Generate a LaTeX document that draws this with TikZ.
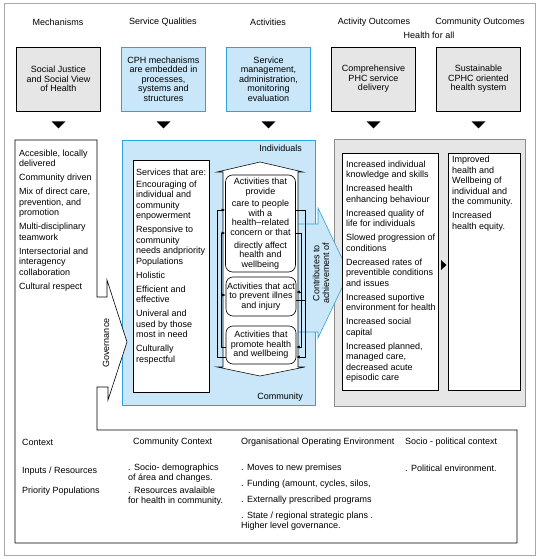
\documentclass[tikz,border=0pt]{standalone}
\usepackage{fontspec}
\setmainfont{Liberation Sans}
\usetikzlibrary{arrows.meta,calc}
\definecolor{bluefill}{HTML}{C9E7F8}
\definecolor{blueline}{HTML}{2AA3E0}
\definecolor{greyfill}{HTML}{E6E6E6}
\definecolor{framegrey}{HTML}{A8A8A8}
\definecolor{panelgrey}{HTML}{8C8C8C}
\begin{document}
\begin{tikzpicture}[x=1pt,y=-1pt,
  every node/.style={font=\fontsize{9}{9.6}\selectfont, inner sep=0pt},
  topbox/.style={draw, line width=0.6pt, minimum width=84pt, minimum height=64pt, align=center},
  greybox/.style={topbox, fill=greyfill, draw=black},
  bluebox/.style={topbox, fill=bluefill, draw=blueline},
  plainbox/.style={draw=black, fill=white, line width=0.6pt, anchor=north west},
  listtext/.style={align=left, anchor=north west, font=\fontsize{9}{10.5}\selectfont},
  actbox/.style={draw=black, fill=white, line width=0.6pt, rounded corners=7pt, align=center, minimum width=70pt},
  fb/.style={line width=0.55pt},
  fbarr/.style={fb, -{Latex[length=3.5pt,width=3pt]}},
  ctx/.style={anchor=west, align=left},
]
\useasboundingbox (0,0) rectangle (538,559);
% outer frame
\draw[framegrey, line width=0.8pt] (4,3) rectangle (535,555);

% headers
\node (hMech) at (58,22) {Mechanisms};
\node (hServ) at (163,22) {Service Qualities};
\node (hAct) at (268,22) {Activities};
\node (hAO) at (374,22) {Activity Outcomes};
\node (hCO) at (480,22) {Community Outcomes};
\node (hHealth) at (429,35) {Health for all};

% top boxes
\node[greybox] (t1) at (58.5,79) {Social Justice\\and Social View\\of Health};
\node[bluebox] (t2) at (163.5,79) {CPH mechanisms\\are embedded in\\processes,\\systems and\\structures};
\node[bluebox] (t3) at (268.5,79) {Service\\management,\\administration,\\monitoring\\evaluation};
\node[greybox] (t4) at (373.5,79) {Comprehensive\\PHC service\\delivery};
\node[greybox] (t5) at (478.5,79) {Sustainable\\CPHC oriented\\health system};
\foreach \t in {t1,t2,t3,t4,t5}{
  \fill ($(\t.south)+(-7,10)$) -- ($(\t.south)+(7,10)$) -- ($(\t.south)+(0,17)$) -- cycle;
}

% blue region and grey outcome panel
\node[draw=blueline, fill=bluefill, line width=0.6pt, anchor=north west, minimum width=193pt, minimum height=265pt] (blue) at (122,140) {};
\node[draw=panelgrey, fill=greyfill, line width=0.6pt, anchor=north west, minimum width=191pt, minimum height=267pt] (panel) at (334,139) {};

% contributes arrow
\fill[bluefill] (296,224) -- (318,224) -- (318,208) -- (349,273) -- (318,338) -- (318,332) -- (296,332) -- cycle;
\draw[blueline, line width=0.6pt] (296,224) -- (318,224) -- (318,208) -- (349,273) -- (318,338) -- (318,332) -- (296,332);
\node[rotate=90, align=center] (contrib) at (321,273) {Contributes to\\achievement of};

% activities double arrow
\draw[fill=white, line width=0.55pt] (223,172) -- (217,172) -- (260,162) -- (303,172) -- (298,172) -- (298,367) -- (305,367) -- (260,376) -- (217,367) -- (223,367) -- cycle;

% activity boxes
\node[actbox, minimum height=97pt] (b1) at (260.5,223.5) {Activities that\\provide\\[3pt]care to people\\with a\\health--related\\concern or that\\[3pt]directly affect\\health and\\wellbeing};
\node[actbox, minimum height=39pt] (b2) at (261,296.5) {Activities that act\\to prevent illnes\\and injury};
\node[actbox, minimum height=38pt] (b3) at (261,345) {Activities that\\promote health\\and wellbeing};

% feedback connectors
\coordinate (L1) at (217,0); \coordinate (L2) at (221,0);
\coordinate (R1) at (305,0); \coordinate (R2) at (301,0);
\coordinate (y210) at (0,210); \coordinate (y233) at (0,233);
\coordinate (y292) at (0,292); \coordinate (y295) at (0,295); \coordinate (y300) at (0,300);
\coordinate (y347) at (0,347); \coordinate (y357) at (0,357);
\draw[fbarr] (b3.west |- y357) -- (L1 |- y357) -- (L1 |- y210) -- (b1.west |- y210);
\draw[fbarr] (b3.west |- y347) -- (L2 |- y347) -- (L2 |- y233) -- (b1.west |- y233);
\draw[fbarr] (L2 |- y295) -- (b2.west |- y295);
\draw[fbarr] (b1.east |- y210) -- (R1 |- y210) -- (R1 |- y357) -- (b3.east |- y357);
\draw[fbarr] (b1.east |- y233) -- (R2 |- y233) -- (R2 |- y347) -- (b3.east |- y347);
\draw[fbarr] (R2 |- y292) -- (b2.east |- y292);
\draw[fb] (b2.east |- y300) -- (R1 |- y300);

\node[anchor=east] (indiv) at (302,148) {Individuals};
\node[anchor=east] (comm) at (303,397) {Community};

% services box
\node[plainbox, minimum width=76pt, minimum height=232pt] (svc) at (133,160) {};
\node[listtext] (svctext) at (136,168.5) {Services that are:\\[1.5pt]Encouraging of\\individual and\\community\\enpowerment\\[3.5pt]Responsive to\\community\\needs andpriority\\Populations\\[3.5pt]Holistic\\[3.5pt]Efficient and\\effective\\[3.5pt]Univeral and\\used by those\\most in need\\[3.5pt]Culturally\\respectful};

% outcome boxes
\node[plainbox, minimum width=96pt, minimum height=237pt] (ao) at (342,153) {};
\node[plainbox, minimum width=72pt, minimum height=237pt] (co) at (448,153) {};
\node[listtext] (aotext) at (346,160.5) {Increased individual\\knowledge and skills\\[3.5pt]Increased health\\enhancing behaviour\\[3.5pt]Increased quality of\\life for individuals\\[3.5pt]Slowed progression of\\conditions\\[3.5pt]Decreased rates of\\preventible conditions\\and issues\\[3.5pt]Increased suportive\\environment for health\\[3.5pt]Increased social\\capital\\[3.5pt]Increased planned,\\managed care,\\decreased acute\\episodic care};
\node[listtext] (cotext) at (452,156) {Improved\\health and\\Wellbeing of\\individual and\\the community.\\[3.5pt]Increased\\health equity.};
\fill (441,260) -- (446.5,265) -- (441,270) -- cycle;

% governance outline
\draw[fill=white, line width=0.6pt] (15,140) -- (97,140) -- (97,297) -- (107,297) -- (107,280) -- (127,342) -- (108,400) -- (108,387) -- (97,387) -- (97,430) -- (517,430) -- (517,543) -- (15,543) -- cycle;
\node[listtext] (mechtext) at (19,149.5) {Accesible, locally\\delivered\\[3.5pt]Community driven\\[3.5pt]Mix of direct care,\\prevention, and\\promotion\\[3.5pt]Multi-disciplinary\\teamwork\\[3.5pt]Intersectorial and\\interagency\\collaboration\\[3.5pt]Cultural respect};
\node[rotate=90] (gov) at (106,343) {Governance};

% context texts
\node[ctx] (cx) at (22,442) {Context};
\node[ctx] (cc) at (133,442) {Community Context};
\node[ctx] (oo) at (241,442) {Organisational Operating Environment};
\node[ctx] (sp) at (405,442) {Socio - political context};
\node[ctx] (inp) at (22,471) {Inputs / Resources};
\node[ctx] (pp) at (22,491) {Priority Populations};
\node[listtext, font=\fontsize{9}{10}\selectfont] (cctext) at (128,464) {. Socio- demographics\\of área and changes.\\[3pt]. Resources avalaible\\for health in community.};
\node[listtext, font=\fontsize{9}{10}\selectfont] (ootext) at (241,463.5) {. Moves to new premises\\[6pt]. Funding (amount, cycles, silos,\\[6pt]. Externally prescribed programs\\[6pt]. State / regional strategic plans .\\Higher level governance.};
\node[ctx] (sptext) at (405,468) {. Political environment.};
\end{tikzpicture}
\end{document}
